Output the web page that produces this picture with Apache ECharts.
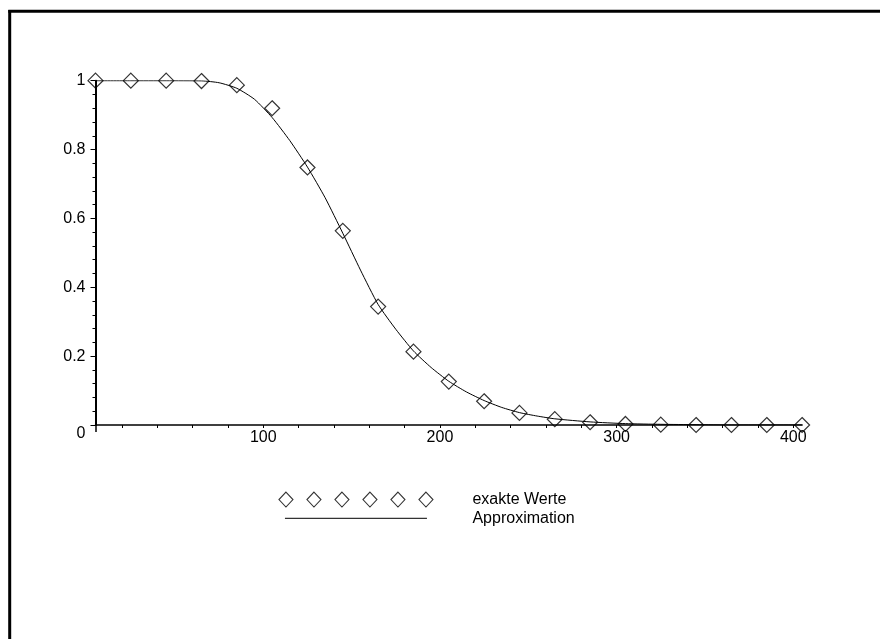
<!DOCTYPE html>
<html>
<head>
<meta charset="utf-8">
<script src="https://cdn.jsdelivr.net/npm/echarts@6/dist/echarts.min.js"></script>
<style>
html,body{margin:0;padding:0;background:#fff;}
#chart{width:880px;height:639px;}
</style>
</head>
<body>
<div id="chart"></div>
<script>
// Data
var xExact = [5, 25, 45, 65, 85, 105, 125, 145, 165, 185, 205, 225, 245, 265, 285, 305, 325, 345, 365, 385, 405];
var yExact = [1.0, 1.0, 1.0, 0.999, 0.987, 0.920, 0.748, 0.564, 0.344, 0.213, 0.126, 0.069, 0.035, 0.017, 0.008, 0.003, 0.001, 0.0, 0.0, 0.0, 0.0];

var xApprox = [5, 25, 45, 65, 75, 85, 95, 105, 115, 125, 135, 145, 155, 165, 175, 185, 195, 205, 215, 225, 235, 245, 255, 265, 285, 305, 325, 345, 365, 405];
var yApprox = [1.0, 1.0, 1.0, 0.9995, 0.994, 0.978, 0.946, 0.893, 0.826, 0.749, 0.660, 0.557, 0.450, 0.350, 0.278, 0.215, 0.167, 0.127, 0.096, 0.071, 0.051, 0.036, 0.026, 0.018, 0.009, 0.004, 0.002, 0.001, 0.0, 0.0];

var yTickLabels = [0, 0.2, 0.4, 0.6, 0.8, 1];
var xTickLabels = [100, 200, 300, 400];
var xMinorTicks = [20, 40, 60, 80, 100, 120, 140, 160, 180, 200, 220, 240, 260, 280, 300, 320, 340, 360, 380, 400];

var seriesNames = ['exakte Werte', 'Approximation'];

var FONT = "'Liberation Sans', Arial, Helvetica, sans-serif";

var exactData = xExact.map(function (x, i) { return [x, yExact[i]]; });
var approxData = xApprox.map(function (x, i) { return [x, yApprox[i]]; });

// legend icons
var diamondsPath = 'path://';
for (var i = 0; i < 6; i++) {
  var cx = 7 + 28 * i;
  diamondsPath += 'M' + cx + ',0 L' + (cx + 7) + ',7.5 L' + cx + ',15 L' + (cx - 7) + ',7.5 Z ';
}
var linePath = 'path://M0,0 L0,0 M0,7 L142,7 L142,8.2 L0,8.2 Z M0,15 L0,15';

var chart = echarts.init(document.getElementById('chart'), null, {renderer: 'canvas'});
chart.setOption({
  animation: false,
  backgroundColor: '#fff',
  textStyle: {fontFamily: FONT, color: '#000'},
  grid: {left: 95.5, top: 80.7, width: 706.6, height: 344.3, containLabel: false},
  graphic: [
    {type: 'line', shape: {x1: 8.3, y1: 11.3, x2: 880, y2: 11.3}, style: {stroke: '#000', lineWidth: 3}},
    {type: 'line', shape: {x1: 9.7, y1: 10, x2: 9.7, y2: 639}, style: {stroke: '#000', lineWidth: 3}}
  ],
  xAxis: [
    {
      type: 'value', min: 5, max: 405,
      splitLine: {show: false},
      axisLine: {show: true, onZero: false, lineStyle: {color: '#000', width: 1.5}},
      axisTick: {show: true, customValues: [5], length: 7, lineStyle: {color: '#000', width: 1.5}},
      axisLabel: {customValues: xTickLabels, margin: 5, fontSize: 16, fontFamily: FONT, color: '#000'}
    },
    {
      type: 'value', min: 5, max: 405, position: 'bottom',
      splitLine: {show: false},
      axisLine: {show: false, onZero: false},
      axisTick: {show: true, customValues: xMinorTicks, length: 3, lineStyle: {color: '#000', width: 1}},
      axisLabel: {show: false}
    }
  ],
  yAxis: {
    type: 'value', min: 0, max: 1, interval: 0.2,
    splitLine: {show: false},
    axisLine: {show: true, onZero: false, lineStyle: {color: '#000', width: 2}},
    axisTick: {show: true, length: 5, lineStyle: {color: '#000', width: 1}},
    minorTick: {show: true, splitNumber: 5, length: 3, lineStyle: {color: '#000', width: 1}},
    axisLabel: {
      margin: 10, fontSize: 16, fontFamily: FONT, color: '#000',
      formatter: function (v) {
        var s = String(Math.round(v * 10) / 10);
        if (v === 0) return '{z|' + s + '}';
        return s;
      },
      rich: {z: {fontSize: 16, fontFamily: FONT, color: '#000', padding: [18, 0, 0, 0]}}
    }
  },
  legend: {
    orient: 'vertical',
    left: 278.4, top: 491.5,
    padding: 0,
    itemWidth: 223, itemHeight: 15, itemGap: 2.7,
    symbolKeepAspect: true,
    selectedMode: false,
    textStyle: {fontSize: 16, fontFamily: FONT, color: '#000', lineHeight: 15},
    data: [
      {name: seriesNames[0], icon: diamondsPath,
       itemStyle: {color: 'rgba(0,0,0,0)', borderColor: '#000', borderWidth: 1.1}},
      {name: seriesNames[1], icon: linePath,
       itemStyle: {color: '#333', borderWidth: 0}}
    ]
  },
  series: [
    {
      name: seriesNames[1], type: 'line', data: approxData,
      xAxisIndex: 0, yAxisIndex: 0,
      smooth: 0.2, showSymbol: false, symbol: 'none',
      lineStyle: {color: '#000', width: 1},
      itemStyle: {color: '#000'},
      z: 2
    },
    {
      name: seriesNames[0], type: 'scatter', data: exactData,
      xAxisIndex: 0, yAxisIndex: 0,
      symbol: 'diamond', symbolSize: 15,
      itemStyle: {color: 'rgba(0,0,0,0)', borderColor: '#000', borderWidth: 1.2},
      z: 3
    }
  ]
});
</script>
</body>
</html>
